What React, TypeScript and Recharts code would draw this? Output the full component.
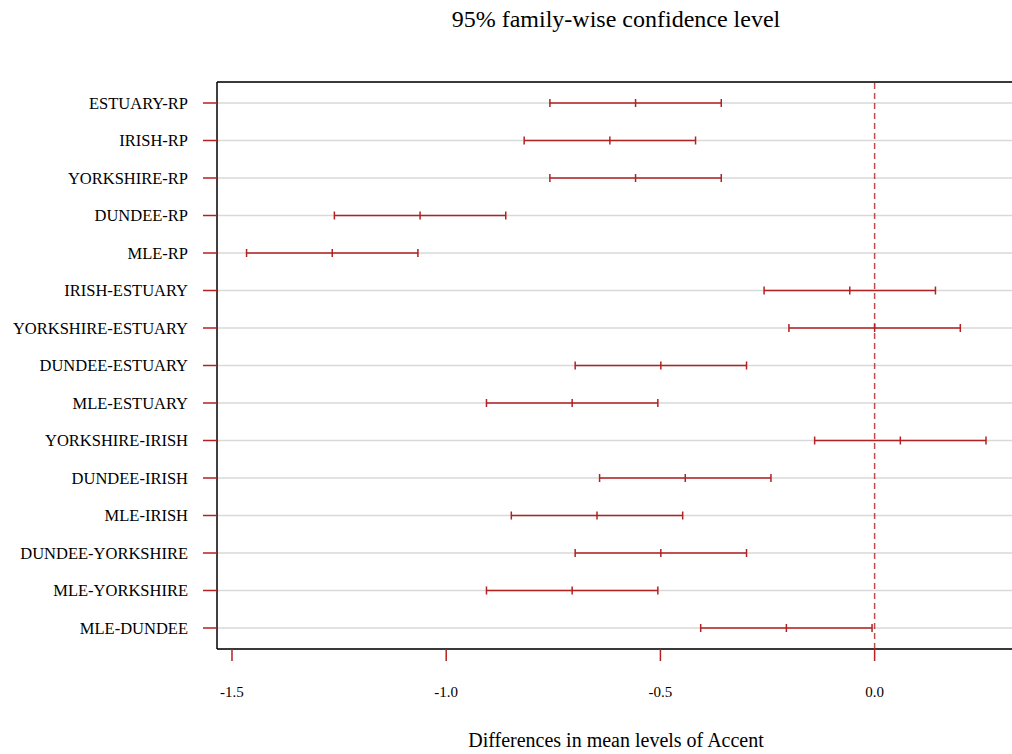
import React from "react";
import {
  ScatterChart,
  Scatter,
  XAxis,
  YAxis,
  CartesianGrid,
  ErrorBar,
  ReferenceLine,
} from "recharts";

// Tukey HSD comparisons, listed top to bottom
const comparisons = [
  "ESTUARY-RP",
  "IRISH-RP",
  "YORKSHIRE-RP",
  "DUNDEE-RP",
  "MLE-RP",
  "IRISH-ESTUARY",
  "YORKSHIRE-ESTUARY",
  "DUNDEE-ESTUARY",
  "MLE-ESTUARY",
  "YORKSHIRE-IRISH",
  "DUNDEE-IRISH",
  "MLE-IRISH",
  "DUNDEE-YORKSHIRE",
  "MLE-YORKSHIRE",
  "MLE-DUNDEE",
];
const diffs = [
  -0.558, -0.618, -0.558, -1.061, -1.266, -0.058, 0.0, -0.499, -0.706, 0.06,
  -0.442, -0.648, -0.499, -0.706, -0.206,
];
const lowers = [
  -0.758, -0.818, -0.758, -1.261, -1.466, -0.258, -0.2, -0.699, -0.906, -0.14,
  -0.642, -0.848, -0.699, -0.906, -0.406,
];
const uppers = [
  -0.358, -0.418, -0.358, -0.861, -1.066, 0.142, 0.2, -0.299, -0.506, 0.26,
  -0.242, -0.448, -0.299, -0.506, -0.006,
];
const xTicks = [-1.5, -1.0, -0.5, 0.0];

const RED = "#b22222";
const SERIF = "'Liberation Serif', 'Times New Roman', serif";

const n = comparisons.length;
const data = comparisons.map((name, i) => ({
  name,
  pos: n - i,
  diff: diffs[i],
  err: [diffs[i] - lowers[i], uppers[i] - diffs[i]],
}));
const yTicks = data.map((d) => d.pos);

const xMin = -1.535;
const xMax = 0.33;
const yMin = 1 - 0.04 * (n - 1);
const yMax = n + 0.04 * (n - 1);

const CenterMark = (props: any) => {
  const { cx, cy } = props;
  if (cx == null || cy == null) return null;
  return <line x1={cx} x2={cx} y1={cy - 4} y2={cy + 4} stroke={RED} strokeWidth={1.5} />;
};

export default function App() {
  return (
    <div
      style={{
        position: "absolute",
        left: 0,
        top: 0,
        width: 1012,
        height: 754,
        overflow: "hidden",
        background: "#fff",
        fontFamily: SERIF,
      }}
    >
      <div
        style={{
          position: "absolute",
          left: 0,
          width: 1232,
          top: 7,
          textAlign: "center",
          fontSize: 24,
          lineHeight: "24px",
          color: "#000",
        }}
      >
        95% family-wise confidence level
      </div>
      <div style={{ position: "absolute", left: 0, top: 0, width: 1060, height: 754 }}>
        <ScatterChart
          width={1060}
          height={754}
          margin={{ top: 82, right: 44, bottom: 45, left: 0 }}
        >
          <CartesianGrid horizontal vertical={false} stroke="#d9d9d9" strokeWidth={1.5} />
          <XAxis
            type="number"
            dataKey="diff"
            domain={[xMin, xMax]}
            ticks={xTicks}
            allowDataOverflow
            height={60}
            tickFormatter={(v: number) => v.toFixed(1)}
            tick={{ fill: "#000", fontSize: 15, fontFamily: SERIF }}
            tickSize={12}
            tickMargin={25}
            tickLine={{ stroke: RED, strokeWidth: 1.5 }}
            axisLine={false}
          />
          <YAxis
            type="number"
            dataKey="pos"
            domain={[yMin, yMax]}
            ticks={yTicks}
            allowDataOverflow
            width={217}
            interval={0}
            tickFormatter={(v: number) => comparisons[n - v]}
            tick={{ fill: "#000", fontSize: 16.5, fontFamily: SERIF }}
            tickSize={14}
            tickMargin={15}
            tickLine={{ stroke: RED, strokeWidth: 1.5 }}
            axisLine={false}
          />
          <ReferenceLine y={yMax} stroke="#000" strokeWidth={1.5} />
          <ReferenceLine y={yMin} stroke="#000" strokeWidth={1.5} />
          <ReferenceLine x={xMin} stroke="#000" strokeWidth={1.5} />
          <ReferenceLine
            x={0}
            stroke={RED}
            strokeWidth={1.5}
            strokeDasharray="6 4"
            strokeOpacity={0.8}
          />
          <Scatter data={data} shape={<CenterMark />} isAnimationActive={false}>
            <ErrorBar
              dataKey="err"
              direction="x"
              width={4}
              stroke={RED}
              strokeWidth={1.5}
              isAnimationActive={false}
            />
          </Scatter>
        </ScatterChart>
      </div>
      <div
        style={{
          position: "absolute",
          left: 0,
          width: 1232,
          top: 730,
          textAlign: "center",
          fontSize: 20,
          lineHeight: "20px",
          color: "#000",
        }}
      >
        Differences in mean levels of Accent
      </div>
    </div>
  );
}
